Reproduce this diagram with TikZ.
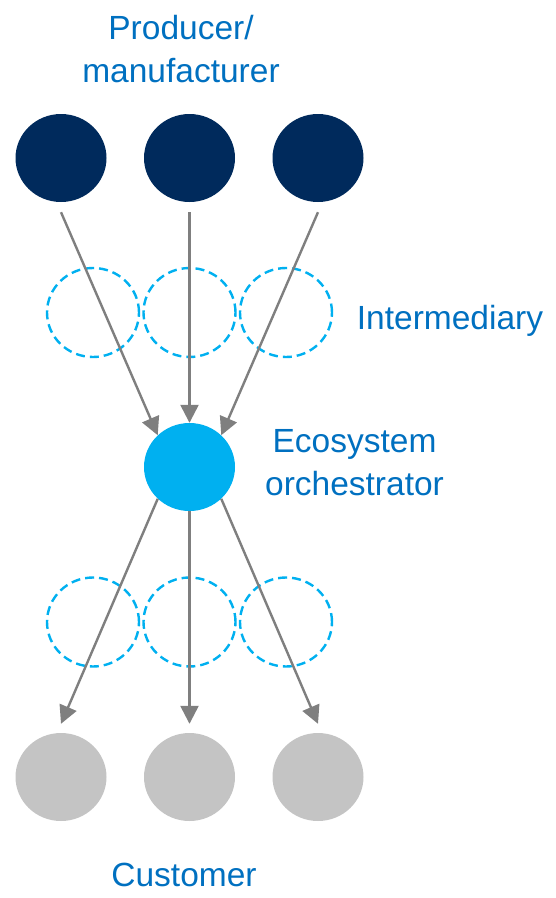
\documentclass[tikz,border=0pt]{standalone}
\usepackage{fontspec}
\setmainfont{Liberation Sans}
\usepackage{tikz}
\usetikzlibrary{shapes.geometric, arrows.meta}

\definecolor{navy}{RGB}{0,42,92}
\definecolor{ecocyan}{RGB}{0,176,240}
\definecolor{custgrey}{RGB}{196,196,196}
\definecolor{arrgrey}{RGB}{127,127,127}
\definecolor{labelblue}{RGB}{0,112,192}

\begin{document}
\begin{tikzpicture}[x=1pt, y=-1pt,
    dot/.style={ellipse, draw=none, inner sep=0pt, minimum width=91pt, minimum height=88pt},
    inter/.style={ellipse, draw=ecocyan, line width=2.4pt, dash pattern=on 9pt off 5pt,
        inner sep=0pt, minimum width=92pt, minimum height=89pt},
    flow/.style={-{Triangle[length=18pt, width=18pt]}, draw=arrgrey, line width=2.4pt},
    lbl/.style={text=labelblue, inner sep=0pt, anchor=base, align=center,
        font=\fontsize{33.5}{42.5}\selectfont}]
    % Frame
    \useasboundingbox (0,0) rectangle (556,898);

    % Producers / manufacturers
    \node[dot, fill=navy] (p1) at (61,158) {};
    \node[dot, fill=navy] (p2) at (189.5,158) {};
    \node[dot, fill=navy] (p3) at (318,158) {};

    % Intermediaries (dashed)
    \node[inter] (i1) at (93,312.5) {};
    \node[inter] (i2) at (189.5,312.5) {};
    \node[inter] (i3) at (286,312.5) {};
    \node[inter] (j1) at (93,622) {};
    \node[inter] (j2) at (189.5,622) {};
    \node[inter] (j3) at (286,622) {};

    % Orchestrator
    \node[dot, fill=ecocyan] (orc) at (189.5,467) {};

    % Customers
    \node[dot, fill=custgrey] (c1) at (61,777) {};
    \node[dot, fill=custgrey] (c2) at (189.5,777) {};
    \node[dot, fill=custgrey] (c3) at (318,777) {};

    % Arrows in
    \draw[flow] ([yshift=-10pt]p1.south) -- (orc.135);
    \draw[flow] ([yshift=-10pt]p2.south) -- (orc.90);
    \draw[flow] ([yshift=-10pt]p3.south) -- (orc.45);

    % Arrows out
    \draw[flow] (orc.225) -- ([yshift=9pt]c1.north);
    \draw[flow] (orc.270) -- ([yshift=9pt]c2.north);
    \draw[flow] (orc.315) -- ([yshift=9pt]c3.north);

    % Labels
    \node[lbl] (prodlbl) at (181,82) {Producer/\\manufacturer};
    \node[lbl] (interlbl) at (450,329) {Intermediary};
    \node[lbl] (orclbl) at (354.5,495) {Ecosystem\\orchestrator};
    \node[lbl] (custlbl) at (184,886) {Customer};

\end{tikzpicture}
\end{document}
